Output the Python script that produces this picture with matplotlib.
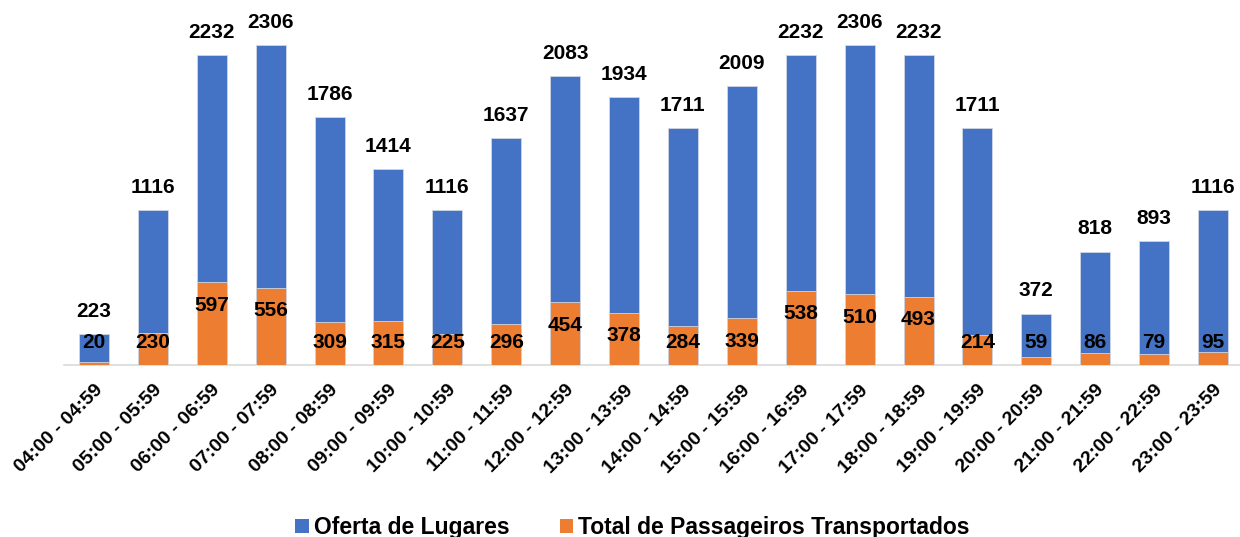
import matplotlib
matplotlib.use('Agg')
import matplotlib.pyplot as plt
import numpy as np

# hourly intervals
categories = ['04:00 - 04:59', '05:00 - 05:59', '06:00 - 06:59', '07:00 - 07:59',
              '08:00 - 08:59', '09:00 - 09:59', '10:00 - 10:59', '11:00 - 11:59',
              '12:00 - 12:59', '13:00 - 13:59', '14:00 - 14:59', '15:00 - 15:59',
              '16:00 - 16:59', '17:00 - 17:59', '18:00 - 18:59', '19:00 - 19:59',
              '20:00 - 20:59', '21:00 - 21:59', '22:00 - 22:59', '23:00 - 23:59']
oferta = [223, 1116, 2232, 2306, 1786, 1414, 1116, 1637, 2083, 1934,
          1711, 2009, 2232, 2306, 2232, 1711, 372, 818, 893, 1116]
passageiros = [20, 230, 597, 556, 309, 315, 225, 296, 454, 378,
               284, 339, 538, 510, 493, 214, 59, 86, 79, 95]

BLUE = '#4472C4'
ORANGE = '#ED7D31'

plt.rcParams['font.family'] = ['Liberation Sans', 'DejaVu Sans']
plt.rcParams['font.weight'] = 'bold'

fig = plt.figure(figsize=(12.4, 5.37), dpi=100)
ax = fig.add_axes([0.052, 0.320, 0.950, 0.646])

x = np.arange(len(categories))
width = 0.51
ax.bar(x, oferta, width, color=BLUE, edgecolor='#D0D6E4', linewidth=0.6,
       label='Oferta de Lugares', zorder=2)
ax.bar(x, passageiros, width, color=ORANGE, edgecolor='#D0D6E4', linewidth=0.6,
       label='Total de Passageiros Transportados', zorder=3)

ax.set_xlim(-0.5, len(categories) - 0.5)
ax.set_ylim(0, 2500)

# labels
for xi, v in zip(x, oferta):
    ax.text(xi, v + 95, str(v), ha='center', va='bottom', fontsize=15,
            fontweight='bold', zorder=4)
for xi, v in zip(x, passageiros):
    yl = max(v - 165, 160)
    ax.text(xi, yl, str(v), ha='center', va='center', fontsize=15,
            fontweight='bold', zorder=4)

ax.set_xticks(x)
ax.set_xticklabels(categories, rotation=45, ha='right', rotation_mode='anchor',
                   fontsize=14, fontweight='bold')
ax.tick_params(axis='x', length=0, pad=12)
ax.set_yticks([])
for s in ['top', 'right', 'left']:
    ax.spines[s].set_visible(False)
ax.spines['bottom'].set_color('#D9D9D9')
ax.spines['bottom'].set_linewidth(1.2)

leg = fig.legend(loc='lower center', bbox_to_anchor=(0.51, -0.042), ncol=2,
                 frameon=False, prop={'size': 16.5, 'weight': 'bold'},
                 handlelength=0.6, handleheight=0.6, handletextpad=0.2,
                 columnspacing=2.2)
for h in leg.legend_handles:
    h.set_edgecolor('none')

fig.savefig('out.png', dpi=100)
